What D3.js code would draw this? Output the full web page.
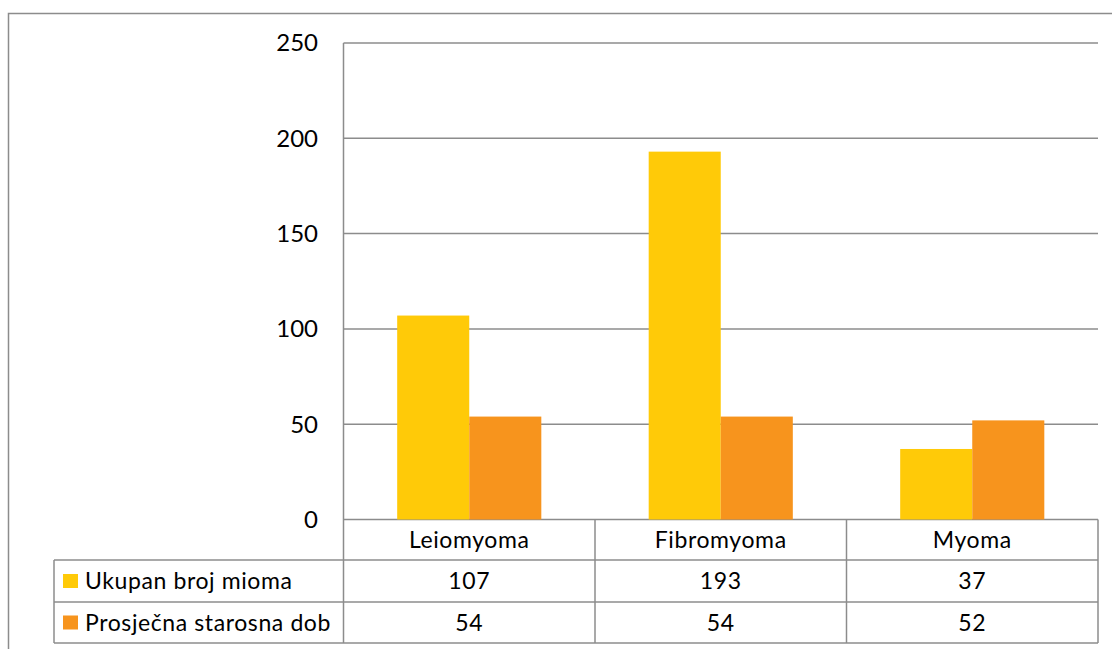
<!DOCTYPE html>
<html>
<head>
<meta charset="utf-8">
<script src="https://cdn.jsdelivr.net/npm/d3@7"></script>
<style>
  body { margin: 0; background: #fff; }
  svg text { font-family: Lato, "Open Sans", sans-serif; fill: #000; }
  .tbl { font-size: 23px; letter-spacing: 0.6px; }
</style>
</head>
<body>
<div id="chart"></div>
<script>
// data
var categories = ['Leiomyoma', 'Fibromyoma', 'Myoma'];
var seriesNames = ['Ukupan broj mioma', 'Prosječna starosna dob'];
var ukupanBroj = [107, 193, 37];
var prosjecnaDob = [54, 54, 52];
var yTicks = [0, 50, 100, 150, 200, 250];
var colors = ['#FFCA08', '#F7941D'];

var W = 1112, H = 649;
var plot = {left: 343.5, right: 1098, top: 43, bottom: 519.5};
var rowH = [40.5, 42, 41];   // category row, series rows
var tableLeft = 54;
var gridColor = '#8c8c8c';

var svg = d3.select('#chart').append('svg')
    .attr('width', W)
    .attr('height', H);

// outer frame
svg.append('rect')
    .attr('x', 8.5).attr('y', 13.5)
    .attr('width', W + 10).attr('height', H + 10)
    .attr('fill', 'none')
    .attr('stroke', gridColor)
    .attr('stroke-width', 1.5);

var x = d3.scaleBand().domain(categories).range([plot.left, plot.right]).paddingInner(0).paddingOuter(0);
var x1 = d3.scaleBand().domain(seriesNames).range([0, x.bandwidth()]).paddingInner(0).paddingOuter(0.745);
var y = d3.scaleLinear().domain([0, 250]).range([plot.bottom, plot.top]);

// gridlines
svg.append('g').selectAll('line')
    .data(yTicks)
    .enter().append('line')
    .attr('x1', plot.left).attr('x2', plot.right)
    .attr('y1', function(d){ return y(d); })
    .attr('y2', function(d){ return y(d); })
    .attr('stroke', gridColor)
    .attr('stroke-width', 1.5);

// y tick labels
svg.append('g').selectAll('text')
    .data(yTicks)
    .enter().append('text')
    .attr('x', 318)
    .attr('y', function(d){ return y(d); })
    .attr('dy', '0.35em')
    .attr('text-anchor', 'end')
    .attr('font-size', 24)
    .text(function(d){ return d; });

// bars
var series = [ukupanBroj, prosjecnaDob];
var groups = svg.append('g').selectAll('g')
    .data(categories)
    .enter().append('g')
    .attr('transform', function(d){ return 'translate(' + x(d) + ',0)'; });

groups.selectAll('rect')
    .data(function(c, i){ return seriesNames.map(function(s, j){ return {s: s, v: series[j][i], j: j}; }); })
    .enter().append('rect')
    .attr('x', function(d){ return x1(d.s); })
    .attr('width', x1.bandwidth())
    .attr('y', function(d){ return y(d.v); })
    .attr('height', function(d){ return y(0) - y(d.v); })
    .attr('fill', function(d){ return colors[d.j]; });

// vertical axis line
var tableBottom = plot.bottom + rowH[0] + rowH[1] + rowH[2];
svg.append('line')
    .attr('x1', plot.left).attr('x2', plot.left)
    .attr('y1', plot.top).attr('y2', tableBottom)
    .attr('stroke', gridColor).attr('stroke-width', 1.5);

// data table
var table = svg.append('g');
var rowY = [plot.bottom, plot.bottom + rowH[0], plot.bottom + rowH[0] + rowH[1], tableBottom];

// horizontal table lines
table.selectAll('line.h')
    .data([1, 2, 3])
    .enter().append('line')
    .attr('class', 'h')
    .attr('x1', tableLeft).attr('x2', plot.right)
    .attr('y1', function(i){ return rowY[i]; })
    .attr('y2', function(i){ return rowY[i]; })
    .attr('stroke', gridColor).attr('stroke-width', 1.5);

// vertical table lines
table.selectAll('line.v')
    .data(categories)
    .enter().append('line')
    .attr('class', 'v')
    .attr('x1', function(d){ return x(d) + x.bandwidth(); })
    .attr('x2', function(d){ return x(d) + x.bandwidth(); })
    .attr('y1', rowY[0]).attr('y2', tableBottom)
    .attr('stroke', gridColor).attr('stroke-width', 1.5);

table.append('line')
    .attr('x1', tableLeft).attr('x2', tableLeft)
    .attr('y1', rowY[1]).attr('y2', tableBottom)
    .attr('stroke', gridColor).attr('stroke-width', 1.5);

// category labels
table.selectAll('text.cat')
    .data(categories)
    .enter().append('text')
    .attr('class', 'cat tbl')
    .attr('x', function(d){ return x(d) + x.bandwidth() / 2; })
    .attr('y', (rowY[0] + rowY[1]) / 2)
    .attr('dy', '0.35em')
    .attr('text-anchor', 'middle')
    .text(function(d){ return d; });

// series rows
seriesNames.forEach(function(s, j){
    var cy = (rowY[j + 1] + rowY[j + 2]) / 2;
    table.append('rect')
        .attr('x', 63).attr('y', cy - 7)
        .attr('width', 15).attr('height', 14)
        .attr('fill', colors[j]);
    table.append('text')
        .attr('class', 'tbl')
        .attr('x', 85).attr('y', cy)
        .attr('dy', '0.35em')
        .text(s);
    table.selectAll(null)
        .data(categories)
        .enter().append('text')
        .attr('class', 'tbl')
        .attr('x', function(d){ return x(d) + x.bandwidth() / 2; })
        .attr('y', cy)
        .attr('dy', '0.35em')
        .attr('text-anchor', 'middle')
        .text(function(d, i){ return series[j][i]; });
});
</script>
</body>
</html>
